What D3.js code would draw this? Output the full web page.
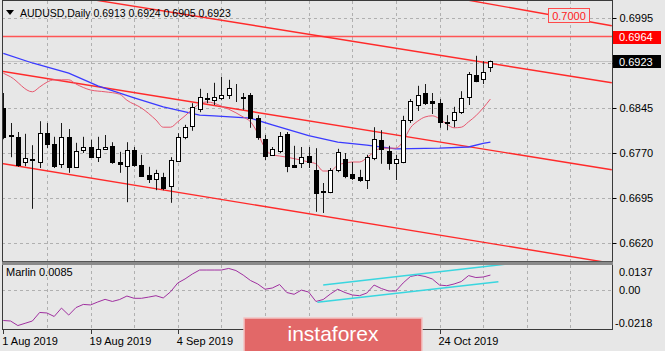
<!DOCTYPE html>
<html>
<head>
<meta charset="utf-8">
<script src="https://cdn.jsdelivr.net/npm/d3@7"></script>
<style>
  body { margin: 0; background: #e7e7e7; }
  svg { display: block; }
  text { font-family: "Liberation Sans", Arial, sans-serif; }
</style>
</head>
<body>
<svg id="chart" width="665" height="351"></svg>
<script>
// AUDUSD daily, bars from 1 Aug 2019 (index 0) to 4 Nov 2019 (index 67)
const symbol = "AUDUSD";
const open = [
  .6845, .6800, .6797, .6755, .6759, .6755, .6803, .6785, .6752, .6797,
  .6747, .6775, .6780, .6763, .6777, .6782, .6755, .6748, .6775, .6750,
  .6733, .6727, .6730, .6715, .6757, .6797, .6815, .6843, .6862, .6858,
  .6862, .6867, .6863, .6864, .6867, .6828, .6793, .6767, .6773, .6802,
  .6750, .6753, .6765, .6742, .6705, .6705, .6742, .6760, .6735, .6730,
  .6725, .6762, .6792, .6773, .6753, .6755, .6825, .6850, .6870, .6857,
  .6853, .6822, .6825, .6838, .6863, .6900, .6893, .6913];
const high = [
  .6870, .6820, .6805, .6802, .6783, .6823, .6820, .6797, .6820, .6810,
  .6787, .6797, .6792, .6797, .6800, .6788, .6772, .6788, .6780, .6767,
  .6747, .6742, .6737, .6763, .6803, .6817, .6853, .6877, .6870, .6887,
  .6897, .6892, .6885, .6870, .6870, .6833, .6800, .6780, .6805, .6805,
  .6782, .6780, .6780, .6778, .6720, .6745, .6777, .6770, .6755, .6742,
  .6767, .6813, .6808, .6782, .6767, .6832, .6860, .6882, .6885, .6870,
  .6860, .6833, .6847, .6873, .6905, .6932, .6923, .6924];
const low = [
  .6793, .6763, .6747, .6748, .6677, .6745, .6778, .6745, .6745, .6737,
  .6745, .6770, .6762, .6755, .6775, .6752, .6737, .6688, .6747, .6730,
  .6720, .6708, .6708, .6687, .6755, .6793, .6807, .6838, .6853, .6850,
  .6858, .6860, .6855, .6842, .6812, .6792, .6758, .6765, .6770, .6738,
  .6747, .6745, .6745, .6672, .6670, .6703, .6738, .6728, .6725, .6722,
  .6710, .6758, .6752, .6742, .6725, .6753, .6820, .6840, .6850, .6835,
  .6812, .6808, .6813, .6835, .6850, .6888, .6885, .6905];
const close = [
  .6797, .6799, .6750, .6762, .6760, .6803, .6785, .6748, .6797, .6747,
  .6773, .6780, .6763, .6777, .6780, .6755, .6752, .6775, .6750, .6732,
  .6727, .6737, .6712, .6758, .6797, .6813, .6847, .6863, .6861, .6863,
  .6867, .6878, .6863, .6863, .6828, .6797, .6765, .6777, .6798, .6748,
  .6747, .6763, .6755, .6703, .6706, .6742, .6772, .6732, .6728, .6725,
  .6763, .6793, .6777, .6753, .6760, .6825, .6857, .6867, .6853, .6853,
  .6822, .6821, .6838, .6862, .6902, .6890, .6905, .6923];

// slow moving average (blue), read at some bars
const slowMaBar = [0, 4, 9, 13, 18, 22, 27, 29, 34, 37, 42, 46, 50, 54, 60, 64, 66, 67];
const slowMaVal = [.6936, .6920, .6903, .6882, .6862, .6847, .6833, .6832, .6828, .6817,
  .6799, .6788, .6783, .6777, .6778, .6780, .6786, .6788];

// fast moving average (pink)
const fastMaBar = [0, 1, 4, 5, 6, 7, 8, 9, 10, 12, 14, 16, 17, 19, 21, 22, 23, 24, 25, 26,
  27, 28, 29, 30, 31, 32, 33, 34, 35, 36, 37, 38, 39, 41, 42, 43, 44, 45, 46, 47,
  48, 49, 50, 51, 52, 53, 54, 55, 56, 57, 58, 59, 60, 61, 62, 63, 64, 65, 66, 67];
const fastMaVal = [.6903, .6897, .6872, .6880, .6888, .6892, .6892, .6892, .6885, .6875,
  .6872, .6868, .6858, .6845, .6825, .6813, .6813, .6822, .6832, .6843,
  .6852, .6855, .6853, .6848, .6843, .6837, .6830, .6822, .6803, .6778,
  .6767, .6765, .6763, .6758, .6755, .6752, .6740, .6740, .6750, .6753,
  .6755, .6755, .6762, .6772, .6778, .6778, .6778, .6790, .6812, .6823,
  .6830, .6832, .6827, .6818, .6812, .6813, .6822, .6832, .6845, .6860];

// Marlin oscillator, one value per bar
const marlin = [
  -.0175, -.0178, -.0204, -.0191, -.0178, -.0129, -.0132, -.0152, -.0104, -.0144,
  -.0101, -.0083, -.0086, -.0069, -.0054, -.0066, -.0055, -.0035, -.0048, -.0048,
  -.0041, -.0033, -.0046, -.0011, .0040, .0063, .0091, .0114, .0114, .0114,
  .0114, .0123, .0111, .0085, .0054, .0034, .0004, .0011, .0031, -.0015,
  -.0025, -.0001, -.0012, -.0066, -.0055, -.0023, .0004, -.0015, -.0029, -.0033,
  -.0018, .0028, .0008, -.0006, -.0006, .0040, .0077, .0085, .0077, .0063,
  .0028, .0024, .0034, .0048, .0082, .0071, .0074, .0085];

// red trend lines on price (start/end in bar index and price)
const trendStartBar = [12.6, 63.8, -0.5, -0.5];
const trendStartPrice = [.7025, .7025, .6907, .6753];
const trendEndBar = [83.7, 83.7, 83.7, 82.8];
const trendEndPrice = [.6887, .6982, .6742, .6588];

// cyan lines on the Marlin window
const cyanStartBar = [44.0, 43.2];
const cyanStartVal = [.0028, -.0071];
const cyanEndBar = [69.0, 68.1];
const cyanEndVal = [.0147, .0047];

const priceTicks = [0.6995, 0.6920, 0.6845, 0.6770, 0.6695, 0.6620];
const levelPrice = 0.6964;
const targetPrice = 0.7000;
const marlinTicks = [0.0137, 0.00, -0.0218];
const marlinTickText = ["0.0137", "0.00", "-0.0218"];
// labels at bars 36 and 48 sit under the watermark and are not shown
const dateBars = [0, 12, 24, 60];
const dateText = ["1 Aug 2019", "19 Aug 2019", "4 Sep 2019", "24 Oct 2019"];

const bg = "#e7e7e7";
const svg = d3.select("#chart");
svg.append("rect").attr("width", 665).attr("height", 351).attr("fill", bg);

const x = d3.scaleLinear().domain([0, 67]).range([3.3, 490.4]);
const y = d3.scaleLinear().domain([0.6620, 0.6995]).range([243, 18]);
const yM = d3.scaleLinear().domain([-0.0218, 0.0137]).range([328, 266]);
const px = i => Math.round(x(i)) + 0.5;

// clip areas for the two panes
const defs = svg.append("defs");
defs.append("clipPath").attr("id", "clipMain")
  .append("rect").attr("x", 2).attr("y", 1).attr("width", 610).attr("height", 260);
defs.append("clipPath").attr("id", "clipInd")
  .append("rect").attr("x", 2).attr("y", 265).attr("width", 610).attr("height", 64);

const main = svg.append("g").attr("clip-path", "url(#clipMain)");
const ind = svg.append("g").attr("clip-path", "url(#clipInd)");

// grid
const gridBars = d3.range(6, 84, 6);
[main, ind].forEach((g, k) => {
  g.selectAll(".vg").data(gridBars).join("line")
    .attr("x1", d => px(d)).attr("x2", d => px(d))
    .attr("y1", k ? 265 : 1).attr("y2", k ? 329 : 261)
    .attr("stroke", "#b0b0b0").attr("stroke-dasharray", "3,3");
});
main.selectAll(".hg").data(priceTicks).join("line")
  .attr("x1", 2).attr("x2", 612)
  .attr("y1", d => Math.round(y(d)) + 0.5).attr("y2", d => Math.round(y(d)) + 0.5)
  .attr("stroke", "#b0b0b0").attr("stroke-dasharray", "3,3");
ind.append("line")
  .attr("x1", 2).attr("x2", 612)
  .attr("y1", Math.round(yM(0)) + 0.5).attr("y2", Math.round(yM(0)) + 0.5)
  .attr("stroke", "#b0b0b0").attr("stroke-dasharray", "3,3");

// current price line and horizontal level
main.append("line").attr("x1", 2).attr("x2", 612)
  .attr("y1", Math.round(y(close[67])) + 0.5).attr("y2", Math.round(y(close[67])) + 0.5)
  .attr("stroke", "#c4c4c4");
main.append("line").attr("x1", 2).attr("x2", 612)
  .attr("y1", y(levelPrice)).attr("y2", y(levelPrice))
  .attr("stroke", "#ff5555").attr("stroke-width", 1.5);

// trend lines
main.selectAll(".trend").data(trendStartBar).join("line")
  .attr("x1", (d, i) => x(d)).attr("y1", (d, i) => y(trendStartPrice[i]))
  .attr("x2", (d, i) => x(trendEndBar[i])).attr("y2", (d, i) => y(trendEndPrice[i]))
  .attr("stroke", "#ff2a2a").attr("stroke-width", 1.4);

// moving averages
const maLine = d3.line().x(d => x(d[0])).y(d => y(d[1]));
main.append("path").datum(slowMaBar.map((b, i) => [b, slowMaVal[i]]))
  .attr("d", maLine).attr("fill", "none").attr("stroke", "#3a3aff").attr("stroke-width", 1.3);
main.append("path").datum(fastMaBar.map((b, i) => [b, fastMaVal[i]]))
  .attr("d", maLine.curve(d3.curveMonotoneX)).attr("fill", "none")
  .attr("stroke", "#e8586f").attr("stroke-width", 1);

// candles
const bars = d3.range(open.length);
main.selectAll(".wick").data(bars).join("line")
  .attr("x1", px).attr("x2", px)
  .attr("y1", i => y(high[i])).attr("y2", i => y(low[i]))
  .attr("stroke", "#1a1a1a");
main.selectAll(".body").data(bars).join("rect")
  .attr("x", i => Math.round(x(i)) - 2 + 0.5)
  .attr("width", 4)
  .attr("y", i => Math.round(y(Math.max(open[i], close[i]))) + 0.5)
  .attr("height", i => Math.max(0, Math.round(Math.abs(y(open[i]) - y(close[i])))))
  .attr("fill", i => close[i] >= open[i] ? "#ffffff" : "#000000")
  .attr("stroke", "#000");

// 0.7000 target label
main.append("rect").attr("x", 548.5).attr("y", Math.round(y(targetPrice)) - 6.5)
  .attr("width", 41).attr("height", 14).attr("fill", bg).attr("stroke", "#ff4a4a");
main.append("text").attr("x", 569).attr("y", y(targetPrice) + 1).attr("dy", "0.35em")
  .attr("text-anchor", "middle").attr("font-size", 11).attr("fill", "#ff2020")
  .text(targetPrice.toFixed(4));

// Marlin window
ind.append("path").datum(marlin)
  .attr("d", d3.line().x((d, i) => x(i)).y(d => yM(d)))
  .attr("fill", "none").attr("stroke", "#a030a0").attr("stroke-width", 1);
ind.selectAll(".cyan").data(cyanStartBar).join("line")
  .attr("x1", d => x(d)).attr("y1", (d, i) => yM(cyanStartVal[i]))
  .attr("x2", (d, i) => x(cyanEndBar[i])).attr("y2", (d, i) => yM(cyanEndVal[i]))
  .attr("stroke", "#3ad6df").attr("stroke-width", 1.5);

// frame
svg.append("line").attr("x1", 2.5).attr("x2", 2.5).attr("y1", 0).attr("y2", 330).attr("stroke", "#3a3a3a");
svg.append("line").attr("x1", 612.5).attr("x2", 612.5).attr("y1", 0).attr("y2", 330).attr("stroke", "#3a3a3a");
svg.append("line").attr("x1", 2).attr("x2", 613).attr("y1", 0.5).attr("y2", 0.5).attr("stroke", "#3a3a3a");
svg.append("rect").attr("x", 2).attr("y", 261).attr("width", 611).attr("height", 4).attr("fill", "#8a8a8a");
svg.append("line").attr("x1", 2).attr("x2", 613).attr("y1", 261.5).attr("y2", 261.5).attr("stroke", "#555");
svg.append("line").attr("x1", 2).attr("x2", 613).attr("y1", 329.5).attr("y2", 329.5).attr("stroke", "#3a3a3a");

// right price axis
const axisR = svg.append("g").attr("transform", "translate(612.5,0)")
  .call(d3.axisRight(y).tickValues(priceTicks).tickFormat(d3.format(".4f")).tickSize(4).tickPadding(3));
axisR.select(".domain").remove();
axisR.selectAll("text").attr("font-size", 11).attr("font-family", "Liberation Sans, Arial").attr("fill", "#000");

// price boxes
[[levelPrice, "#ff0000"], [close[67], "#000000"]].forEach(([p, c]) => {
  svg.append("rect").attr("x", 613).attr("y", Math.round(y(p)) - 6).attr("width", 48).attr("height", 13).attr("fill", c);
  svg.append("text").attr("x", 619).attr("y", y(p) + 0.5).attr("dy", "0.35em")
    .attr("font-size", 11).attr("fill", "#fff").text(p.toFixed(4));
});

// Marlin axis
svg.selectAll(".mt").data(marlinTicks).join("text")
  .attr("x", (d, i) => i === 2 ? 615 : 619)
  .attr("y", (d, i) => [272, 290, 323][i]).attr("dy", "0.35em")
  .attr("font-size", 11).attr("fill", "#000")
  .text((d, i) => marlinTickText[i]);

// date axis
svg.selectAll(".dt").data(dateBars).join("line")
  .attr("x1", px).attr("x2", px).attr("y1", 330).attr("y2", 334).attr("stroke", "#3a3a3a");
svg.selectAll(".dl").data(dateBars).join("text")
  .attr("x", d => x(d) - 1).attr("y", 341).attr("dy", "0.35em")
  .attr("font-size", 11).attr("fill", "#000")
  .text((d, i) => dateText[i]);

// header
svg.append("path").attr("d", "M6,10 L14,10 L10,15 Z").attr("fill", "#000");
svg.append("text").attr("x", 20).attr("y", 13).attr("dy", "0.35em").attr("font-size", 10.5).attr("fill", "#000")
  .text(`${symbol},Daily  ${[open[67], high[67], low[67], close[67]].map(d => d.toFixed(4)).join(" ")}`);
svg.append("text").attr("x", 6).attr("y", 272).attr("dy", "0.35em").attr("font-size", 11).attr("fill", "#000")
  .text(`Marlin ${marlin[67].toFixed(4)}`);

// watermark
svg.append("rect").attr("x", 244).attr("y", 318).attr("width", 178).attr("height", 34)
  .attr("fill", "#e26868").attr("stroke", "#f4c4c4").attr("stroke-width", 1.5);
svg.append("text").attr("x", 333).attr("y", 341).attr("text-anchor", "middle")
  .attr("font-size", 21).attr("fill", "#fff").text("instaforex");
</script>
</body>
</html>
